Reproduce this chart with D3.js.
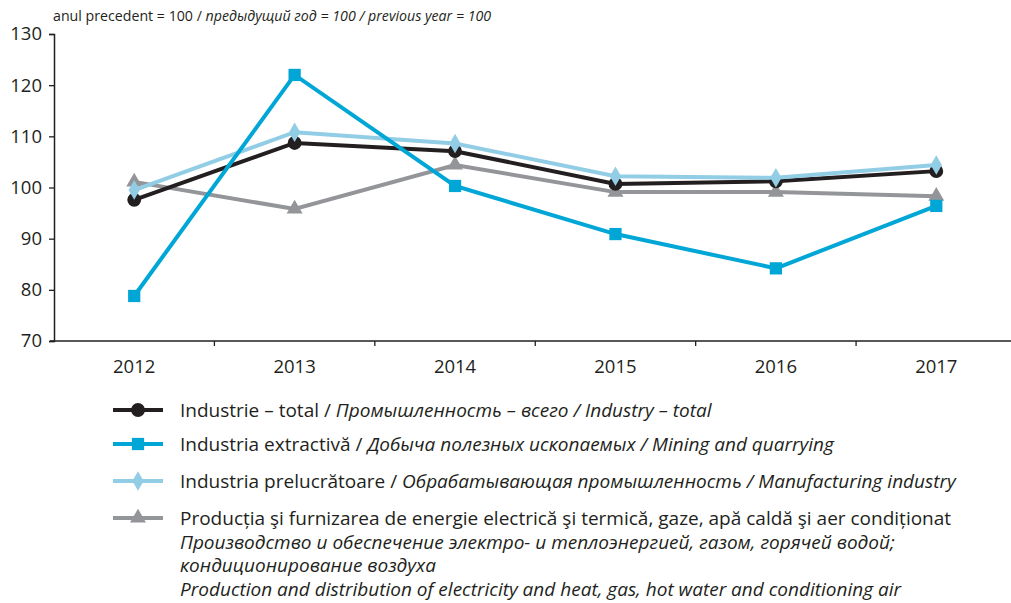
<!DOCTYPE html>
<meta charset="utf-8">
<script src="https://d3js.org/d3.v7.min.js"></script>
<style>
  body { margin: 0; background: #fff; }
  text { font-family: "Open Sans", "Noto Sans", sans-serif; fill: #231f20; }
</style>
<div id="chart"></div>
<script>
    // data
    var years = ["2012", "2013", "2014", "2015", "2016", "2017"];
    var industryTotal = [97.6, 108.7, 107.1, 100.7, 101.2, 103.2];
    var mining = [78.8, 122.0, 100.3, 90.9, 84.2, 96.4];
    var manufacturing = [99.5, 110.8, 108.6, 102.2, 101.9, 104.4];
    var energy = [101.1, 95.8, 104.4, 99.1, 99.1, 98.3];
    var yTicks = [70, 80, 90, 100, 110, 120, 130];

    var width = 1011, height = 603;

    var svg = d3.select("#chart")
        .append("svg")
        .attr("width", width)
        .attr("height", height);

    var x = d3.scaleBand().domain(years).range([54, 1016.5]);
    var y = d3.scaleLinear().domain([70, 130]).range([341, 34]);

    // unit note
    var note = svg.append("text")
        .attr("x", 53).attr("y", 21)
        .style("font-size", "14.2px");
    note.append("tspan").text("anul precedent = 100 / ");
    note.append("tspan").style("font-style", "italic").text("предыдущий год = 100 / previous year = 100");

    // y axis
    var yAxis = svg.append("g")
        .attr("transform", "translate(54,0)")
        .call(d3.axisLeft(y).tickValues(yTicks).tickSize(5).tickPadding(7));
    yAxis.select(".domain").attr("stroke", "#231f20").attr("stroke-width", 1.5);
    yAxis.selectAll(".tick line").attr("stroke", "#231f20").attr("stroke-width", 1.3);
    yAxis.selectAll("text").style("font-size", "18.5px").attr("fill", "#231f20");

    // x axis: line plus ticks on band boundaries
    svg.append("line")
        .attr("x1", 50).attr("x2", width)
        .attr("y1", y(70)).attr("y2", y(70))
        .attr("stroke", "#231f20").attr("stroke-width", 1.5);
    svg.selectAll(".xtick")
        .data(years.slice(1))
        .enter().append("line")
        .attr("x1", d => x(d)).attr("x2", d => x(d))
        .attr("y1", y(70)).attr("y2", y(70) + 5)
        .attr("stroke", "#231f20").attr("stroke-width", 1.3);
    svg.selectAll(".xlabel")
        .data(years)
        .enter().append("text")
        .attr("x", d => x(d) + x.bandwidth() / 2)
        .attr("y", 373)
        .attr("text-anchor", "middle")
        .style("font-size", "18.5px")
        .text(d => d);

    var series = [
        { values: energy, color: "#939598", shape: d3.symbolTriangle, size: 110 },
        { values: industryTotal, color: "#231f20", shape: d3.symbolCircle, size: 150 },
        { values: manufacturing, color: "#92cde6", shape: d3.symbolDiamond, size: 110 },
        { values: mining, color: "#00a6d6", shape: d3.symbolSquare, size: 150 }
    ];

    var line = d3.line()
        .x((d, i) => x(years[i]) + x.bandwidth() / 2)
        .y(d => y(d));

    series.forEach(function (s) {
        svg.append("path")
            .attr("d", line(s.values))
            .attr("fill", "none")
            .attr("stroke", s.color)
            .attr("stroke-width", 4);
        svg.selectAll(null)
            .data(s.values)
            .enter().append("path")
            .attr("d", d3.symbol().type(s.shape).size(s.size))
            .attr("transform", (d, i) => "translate(" + (x(years[i]) + x.bandwidth() / 2) + "," + y(d) + ")")
            .attr("fill", s.color);
    });

    // legend
    var legend = [
        { color: "#231f20", shape: d3.symbolCircle, size: 150, y: 410,
          lines: [["Industrie – total / ", "Промышленность – всего / Industry – total"]] },
        { color: "#00a6d6", shape: d3.symbolSquare, size: 150, y: 444,
          lines: [["Industria extractivă / ", "Добыча полезных ископаемых / Mining and quarrying"]] },
        { color: "#92cde6", shape: d3.symbolDiamond, size: 110, y: 481,
          lines: [["Industria prelucrătoare / ", "Обрабатывающая промышленность / Manufacturing industry"]] },
        { color: "#939598", shape: d3.symbolTriangle, size: 110, y: 518,
          lines: [["Producția şi furnizarea de energie electrică şi termică, gaze, apă caldă şi aer condiționat", ""],
                  ["", "Производство и обеспечение электро- и теплоэнергией, газом, горячей водой;"],
                  ["", "кондиционирование воздуха"],
                  ["", "Production and distribution of electricity and heat, gas, hot water and conditioning air"]] }
    ];

    legend.forEach(function (l) {
        svg.append("line")
            .attr("x1", 113).attr("x2", 163)
            .attr("y1", l.y).attr("y2", l.y)
            .attr("stroke", l.color).attr("stroke-width", 4);
        svg.append("path")
            .attr("d", d3.symbol().type(l.shape).size(l.size))
            .attr("transform", "translate(138," + l.y + ")")
            .attr("fill", l.color);
        l.lines.forEach(function (ln, k) {
            var t = svg.append("text")
                .attr("x", 180)
                .attr("y", l.y + 7 + k * 23.5)
                .style("font-size", "19px");
            if (ln[0]) t.append("tspan").text(ln[0]);
            if (ln[1]) t.append("tspan").style("font-style", "italic").text(ln[1]);
        });
    });
</script>
